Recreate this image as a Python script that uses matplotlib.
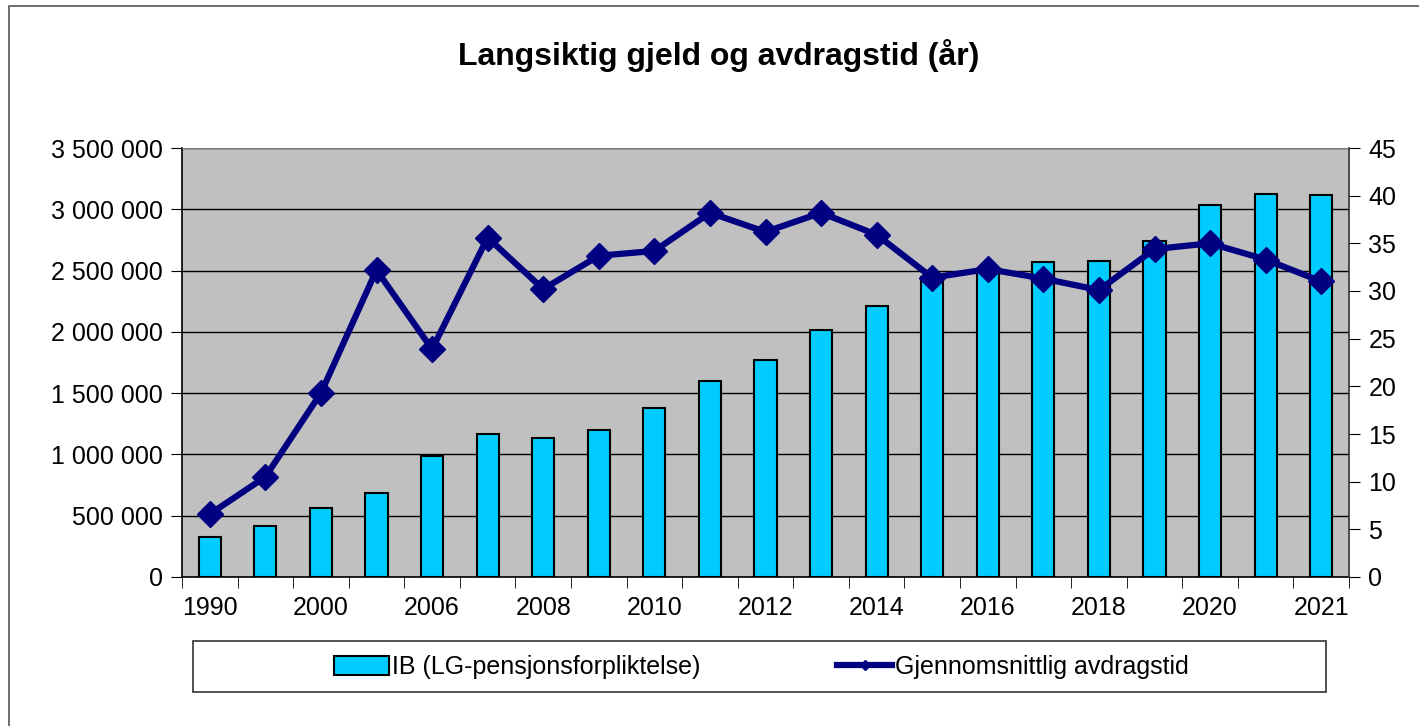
import matplotlib
matplotlib.use("Agg")
import matplotlib.pyplot as plt
from matplotlib.patches import Rectangle, Patch
from matplotlib.lines import Line2D
from matplotlib.ticker import FuncFormatter, MultipleLocator
import numpy as np

plt.rcParams['font.family'] = ['Liberation Sans', 'DejaVu Sans']

# data
years = ["1990", "1995", "2000", "2005", "2006", "2007", "2008", "2009", "2010", "2011",
         "2012", "2013", "2014", "2015", "2016", "2017", "2018", "2019", "2020", "2021 ", "2021"]
gjeld = [327000, 416000, 563000, 687000, 985000, 1166000, 1134000, 1199000, 1379000, 1600000,
         1768000, 2018000, 2208000, 2450000, 2490000, 2567000, 2578000, 2741000, 3035000, 3127000, 3117000]
avdragstid = [6.6, 10.5, 19.3, 32.2, 23.9, 35.6, 30.2, 33.7, 34.2, 38.2,
              36.2, 38.2, 35.9, 31.4, 32.3, 31.3, 30.1, 34.4, 35.0, 33.3, 31.0]

title = "Langsiktig gjeld og avdragstid (år)"
bar_label = "IB (LG-pensjonsforpliktelse)"
line_label = "Gjennomsnittlig avdragstid"

W, H = 1419, 726
fig = plt.figure(figsize=(W / 100, H / 100), dpi=100)

def fx(px):
    return px / W

def fy(py):
    return 1 - py / H

# outer chart border
fig.add_artist(Rectangle((fx(9), fy(760)), fx(1450 - 9), (760 - 6) / H,
                         transform=fig.transFigure, fill=False, edgecolor='#555555', lw=1.2))

ax = fig.add_axes([fx(182), fy(577), fx(1349 - 182), (577 - 148) / H])
ax.set_facecolor('#C0C0C0')
x = np.arange(len(years))

ax.bar(x, gjeld, width=0.4, color='#00CCFF', edgecolor='black', linewidth=1.5, zorder=2)
ax.set_ylim(0, 3500000)
ax.set_xlim(-0.5, len(years) - 0.5)
ax.yaxis.set_major_locator(MultipleLocator(500000))
ax.yaxis.set_major_formatter(FuncFormatter(lambda v, p: f"{int(v):,}".replace(",", " ")))
ax.grid(axis='y', color='black', lw=1, zorder=1)
ax.set_axisbelow(True)

ax.set_xticks(x[::2])
ax.set_xticklabels([years[i] for i in x[::2]])
ax.set_xticks(np.arange(-0.5, len(years)), minor=True)
ax.tick_params(axis='x', which='major', length=0, labelsize=18, pad=14)
ax.tick_params(axis='x', which='minor', length=8, direction='out', color='black')
ax.tick_params(axis='y', length=8, direction='out', labelsize=18, pad=6)

for s in ['left', 'bottom']:
    ax.spines[s].set_color('black')
    ax.spines[s].set_linewidth(1.2)
ax.spines['top'].set_color('#808080')
ax.spines['right'].set_visible(False)

ax2 = ax.twinx()
ax2.plot(x, avdragstid, color='#000080', lw=4.5, marker='D', markersize=13, zorder=3)
ax2.set_ylim(0, 45)
ax2.yaxis.set_major_locator(MultipleLocator(5))
ax2.tick_params(axis='y', length=8, direction='out', labelsize=18, pad=6)
ax2.spines['right'].set_color('#333333')
ax2.spines['right'].set_linewidth(1.2)
for s in ['left', 'top', 'bottom']:
    ax2.spines[s].set_visible(False)

fig.text(fx(719), fy(55), title, ha='center', va='center', fontsize=23, fontweight='bold')

# legend box
fig.add_artist(Rectangle((fx(193), fy(692)), fx(1326 - 193), (692 - 641) / H,
                         transform=fig.transFigure, fill=False, edgecolor='#333333', lw=1.2))
h1 = Patch(facecolor='#00CCFF', edgecolor='black', linewidth=1.5)
h2 = Line2D([], [], color='#000080', lw=4.5, marker='D', markersize=5)
fig.legend([h1], [bar_label], loc='center', bbox_to_anchor=(fx(517), fy(667)),
           frameon=False, fontsize=18, handlelength=2.2, handletextpad=0.1, handleheight=0.8)
fig.legend([h2], [line_label], loc='center', bbox_to_anchor=(fx(1013), fy(667)),
           frameon=False, fontsize=18, handlelength=2.2, handletextpad=0.1)

fig.savefig("out.png", dpi=100)
